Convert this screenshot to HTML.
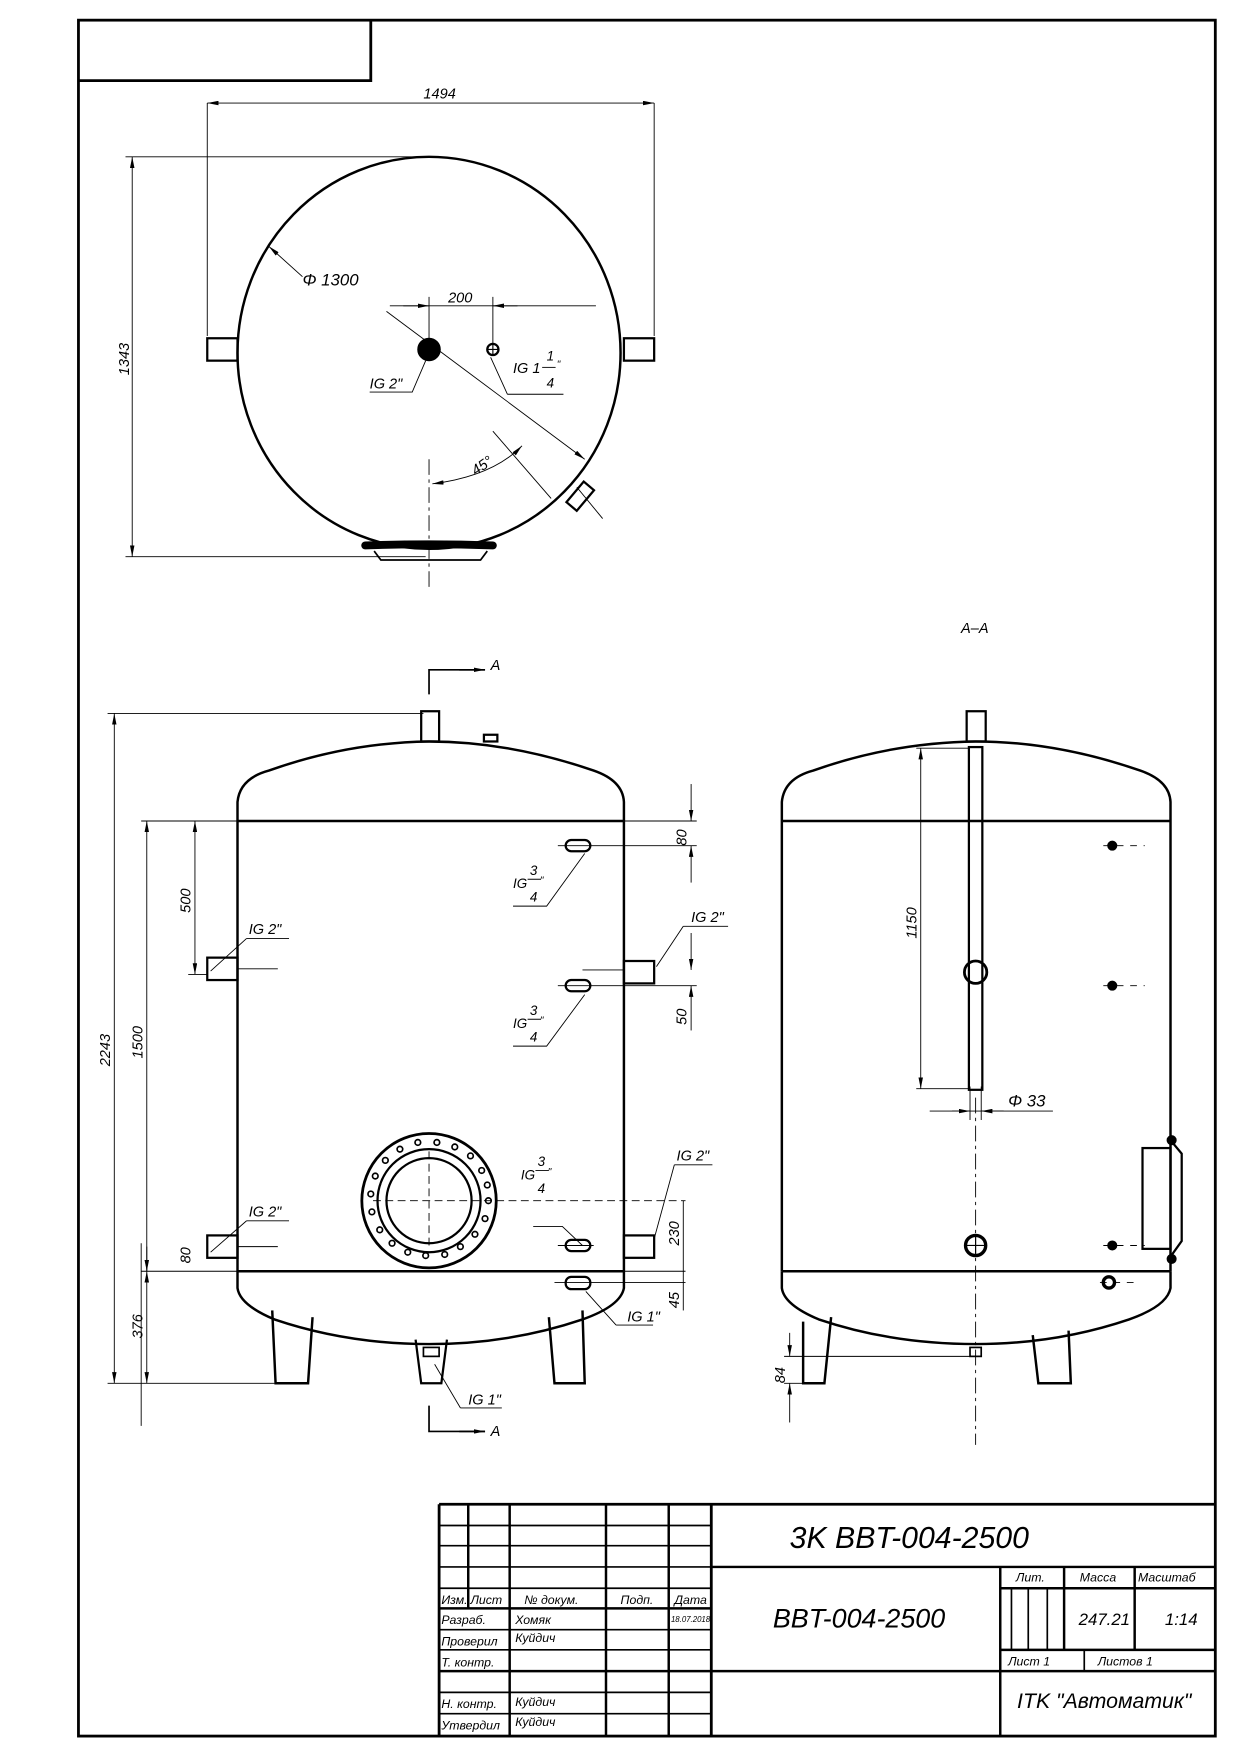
<!DOCTYPE html>
<html><head><meta charset="utf-8"><style>
html,body{margin:0;padding:0;background:#fff}
svg{display:block}
text{font-family:"Liberation Sans","DejaVu Sans",sans-serif;font-style:italic;fill:#000}
</style></head><body>
<svg width="1240" height="1754" viewBox="0 0 1107 1566" xmlns="http://www.w3.org/2000/svg">
<defs>
<marker id="a" viewBox="0 0 10 4" refX="10" refY="2" markerWidth="10" markerHeight="4" orient="auto-start-reverse" markerUnits="userSpaceOnUse"><path d="M0,0L10,2L0,4z"/></marker>
</defs>
<g fill="none" stroke="#000">
<rect x="70" y="18" width="1015" height="1532" stroke-width="2.5"/>
<path d="M70 72H331V18" stroke-width="2.5"/>

<!-- TOP VIEW -->
<ellipse cx="383" cy="315" rx="171" ry="175" stroke-width="2.2"/>
<rect x="185" y="302" width="27" height="20" stroke-width="2"/>
<rect x="557" y="302" width="27" height="20" stroke-width="2"/>
<path d="M185 300V92M584 300V92" stroke-width="0.8"/>
<path d="M185 92H584" stroke-width="0.8" marker-start="url(#a)" marker-end="url(#a)"/>
<path d="M112 140H385M112 497H380" stroke-width="0.8"/>
<path d="M118 140V497" stroke-width="0.8" marker-start="url(#a)" marker-end="url(#a)"/>
<path d="M270 247L240 220" stroke-width="0.8" marker-end="url(#a)"/>
<path d="M345 278L522 410" stroke-width="0.8" marker-end="url(#a)"/>
<path d="M348 273H532" stroke-width="0.8"/>
<path d="M360 273H383" stroke-width="0.8" marker-end="url(#a)"/>
<path d="M462 273H440" stroke-width="0.8" marker-end="url(#a)"/>
<path d="M383 265V310M440 265V308" stroke-width="0.8"/>
<circle cx="383" cy="312" r="10" fill="#000"/>
<circle cx="440" cy="312" r="5" stroke-width="2"/>
<path d="M440 307V317M435 312H445" stroke-width="1"/>
<path d="M330 350H368L380 322" stroke-width="0.8"/>
<path d="M453 352H503M453 352L438 319" stroke-width="0.8"/>
<path d="M383 410V525" stroke-width="0.8" stroke-dasharray="14 4 3 4"/>
<path d="M440 385L492 445" stroke-width="0.8"/>
<path d="M386 432Q440 425 466 398" stroke-width="0.8" marker-start="url(#a)" marker-end="url(#a)"/>
<g transform="translate(518,443) rotate(40)"><rect x="-6" y="-12" width="12" height="24" stroke-width="2"/></g>
<path d="M515 435L538 463" stroke-width="0.8"/>
<path d="M326 487Q383 485 440 487" stroke-width="7" stroke-linecap="round"/>
<path d="M334 492L340 500H429L435 492" stroke-width="1.5"/>

<!-- FRONT VIEW -->
<path d="M212 733V716Q214 695 240 688Q310 663 383 662Q455 662 530 688Q556 697 557 716V733" stroke-width="2.2"/>
<path d="M212 733H557M212 1135H557" stroke-width="2.2"/>
<path d="M212 733V1135M557 733V1135" stroke-width="2.2"/>
<path d="M212 1135V1150Q214 1165 245 1178Q310 1200 383 1200Q455 1200 520 1178Q554 1166 557 1150V1135" stroke-width="2.2"/>
<rect x="376" y="635" width="16" height="27" stroke-width="2"/>
<rect x="432" y="656" width="12" height="6" stroke-width="2"/>
<path d="M279 1176L275 1235H246L243 1170" stroke-width="2.2"/>
<path d="M490 1176L495 1235H522L520 1170" stroke-width="2.2"/>
<path d="M371 1196L376 1235H394L399 1196" stroke-width="2"/>
<rect x="378" y="1203" width="14" height="8" stroke-width="1.5"/>
<rect x="185" y="855" width="27" height="20" stroke-width="2"/>
<rect x="185" y="1103" width="27" height="20" stroke-width="2"/>
<rect x="557" y="858" width="27" height="20" stroke-width="2"/>
<rect x="557" y="1103" width="27" height="20" stroke-width="2"/>
<path d="M212 865H248M212 1113H248M520 866H557" stroke-width="0.8"/>
<g stroke-width="2">
<rect x="505" y="750" width="22" height="10" rx="5"/><rect x="505" y="875" width="22" height="10" rx="5"/>
<rect x="505" y="1107" width="22" height="10" rx="5"/><rect x="505" y="1140" width="22" height="11" rx="5"/>
</g>
<path d="M498 755H622M498 880H622M498 1112H530M495 1145H612" stroke-width="0.8"/>
<path d="M458 809H488L522 762" stroke-width="0.8"/>
<path d="M458 934H488L522 888" stroke-width="0.8"/>
<path d="M476 1095H502L520 1112" stroke-width="0.8"/>
<path d="M220 838H258M220 838L188 867" stroke-width="0.8"/>
<path d="M220 1090H258M220 1090L188 1118" stroke-width="0.8"/>
<path d="M610 827H650M610 827L586 863" stroke-width="0.8"/>
<path d="M602 1040H636M602 1040L584 1106" stroke-width="0.8"/>
<path d="M550 1183H583M550 1183L523 1153" stroke-width="0.8"/>
<path d="M411 1257H448M411 1257L388 1218" stroke-width="0.8"/>
<ellipse cx="383" cy="1072" rx="60" ry="60" stroke-width="2.5"/>
<ellipse cx="383" cy="1072" rx="46" ry="46" stroke-width="2"/>
<ellipse cx="383" cy="1072" rx="38" ry="38" stroke-width="2"/>
<g stroke-width="1.5">
<circle cx="436" cy="1072" r="2.5"/><circle cx="433" cy="1088" r="2.5"/><circle cx="424" cy="1102" r="2.5"/><circle cx="411" cy="1113" r="2.5"/><circle cx="397" cy="1120" r="2.5"/><circle cx="380" cy="1121" r="2.5"/><circle cx="364" cy="1118" r="2.5"/><circle cx="350" cy="1110" r="2.5"/><circle cx="339" cy="1098" r="2.5"/><circle cx="332" cy="1082" r="2.5"/><circle cx="331" cy="1066" r="2.5"/><circle cx="335" cy="1050" r="2.5"/><circle cx="344" cy="1036" r="2.5"/><circle cx="357" cy="1026" r="2.5"/><circle cx="373" cy="1020" r="2.5"/><circle cx="390" cy="1020" r="2.5"/><circle cx="406" cy="1024" r="2.5"/><circle cx="420" cy="1032" r="2.5"/><circle cx="430" cy="1045" r="2.5"/><circle cx="435" cy="1058" r="2.5"/>
</g>
<path d="M333 1072H612M383 1028V1116" stroke-width="0.8" stroke-dasharray="7 4"/>
<path d="M96 637H378M96 1235H245M126 733H212M126 1273V1110M126 1135H212M168 870H185" stroke-width="0.8"/>
<path d="M102 637V1235" stroke-width="0.8" marker-start="url(#a)" marker-end="url(#a)"/>
<path d="M131 733V1135" stroke-width="0.8" marker-start="url(#a)" marker-end="url(#a)"/>
<path d="M131 1135V1235" stroke-width="0.8" marker-start="url(#a)" marker-end="url(#a)"/>
<path d="M174 733V870" stroke-width="0.8" marker-start="url(#a)" marker-end="url(#a)"/>
<path d="M131 1113V1135" stroke-width="0.8"/>
<path d="M557 733H622" stroke-width="0.8"/>
<path d="M617 700V733" stroke-width="0.8" marker-end="url(#a)"/>
<path d="M617 788V755" stroke-width="0.8" marker-end="url(#a)"/>
<path d="M617 833V866" stroke-width="0.8" marker-end="url(#a)"/>
<path d="M617 920V880" stroke-width="0.8" marker-end="url(#a)"/>
<path d="M610 1072V1170" stroke-width="0.8"/>
<path d="M557 1135H612" stroke-width="0.8"/>
<path d="M383 620V598H433" stroke-width="1.5"/>
<path d="M410 598H433" stroke-width="1.5" marker-end="url(#a)"/>
<path d="M383 1255V1278H433" stroke-width="1.5"/>
<path d="M410 1278H433" stroke-width="1.5" marker-end="url(#a)"/>

<!-- SECTION A-A -->
<path d="M698 733V716Q700 695 726 688Q796 663 871 662Q943 662 1018 688Q1044 697 1045 716V733" stroke-width="2.2"/>
<path d="M698 733H1045M698 1135H1045M698 733V1135M1045 733V1135" stroke-width="2.2"/>
<path d="M698 1135V1150Q700 1165 731 1178Q796 1200 871 1200Q943 1200 1008 1178Q1042 1166 1045 1150V1135" stroke-width="2.2"/>
<rect x="863" y="635" width="17" height="27" stroke-width="2"/>
<path d="M717 1180L717 1235H736L742 1176" stroke-width="2.2"/>
<path d="M922 1192L927 1235H956L954 1188" stroke-width="2.2"/>
<rect x="866" y="1203" width="10" height="8" stroke-width="1.5"/>
<rect x="865" y="667" width="12" height="306" stroke-width="2"/>
<path d="M871 980V1290" stroke-width="0.8" stroke-dasharray="14 4 3 4"/>
<circle cx="871" cy="868" r="10" stroke-width="2.5"/>
<circle cx="871" cy="1112" r="9" stroke-width="3"/>
<path d="M862 1112H880M871 1104V1120" stroke-width="1"/>
<path d="M818 668H865M818 972H865" stroke-width="0.8"/>
<path d="M822 668V972" stroke-width="0.8" marker-start="url(#a)" marker-end="url(#a)"/>
<path d="M830 992H940" stroke-width="0.8"/>
<path d="M850 992H866" stroke-width="0.8" marker-end="url(#a)"/>
<path d="M896 992H876" stroke-width="0.8" marker-end="url(#a)"/>
<path d="M866 970V1000M876 970V1000" stroke-width="0.8"/>
<g stroke-width="1"><circle cx="993" cy="755" r="4" fill="#000"/><circle cx="993" cy="880" r="4" fill="#000"/><circle cx="993" cy="1112" r="4" fill="#000"/><circle cx="990" cy="1145" r="5" stroke-width="3"/></g>
<path d="M985 755H1022M985 880H1022M985 1112H1022M982 1145H1018" stroke-width="0.8" stroke-dasharray="6 6"/>
<rect x="1020" y="1025" width="25" height="90" stroke-width="2"/>
<path d="M1045 1018L1055 1030V1108L1045 1122" stroke-width="2"/>
<circle cx="1046" cy="1018" r="4" fill="#000"/><circle cx="1046" cy="1124" r="4" fill="#000"/>
<path d="M700 1211H876M700 1235H717" stroke-width="0.8"/>
<path d="M705 1190V1211" stroke-width="0.8" marker-end="url(#a)"/>
<path d="M705 1270V1235" stroke-width="0.8" marker-end="url(#a)"/>

<!-- TITLE BLOCK -->
<path d="M392 1343H1085M392 1343V1550M635 1343V1550" stroke-width="2.5"/>
<path d="M418 1343V1436M455 1343V1550M541 1343V1550M597 1343V1550M392 1492H1085M392 1436H635M635 1399H1085M893 1399V1550M893 1418H1085M950 1399V1473M1013 1399V1473M893 1473H1085" stroke-width="2.2"/>
<path d="M392 1362H635M392 1380H635M392 1399H635M392 1418H635M392 1455H635M392 1473H635M392 1511H635M392 1530H635M903 1418V1473M918 1418V1473M935 1418V1473M968 1473V1492" stroke-width="1.5"/>
</g>

<g font-size="13">
<text x="378" y="88">1494</text>
<text x="270" y="255" font-size="15">Φ 1300</text>
<text x="400" y="270">200</text>
<text x="330" y="347">IG 2"</text>
<text x="458" y="333">IG 1</text>
<text x="488" y="322" font-size="12">1</text>
<text x="488" y="346" font-size="12">4</text><path d="M484 328H496" stroke="#000" stroke-width="0.8"/><text x="497" y="328" font-size="9">"</text>
<text transform="translate(115,335) rotate(-90)">1343</text>
<text x="420" y="420" transform="rotate(-35 430 415)">45°</text>
<text x="858" y="565">A–A</text>
<text x="438" y="598">A</text>
<text x="438" y="1282">A</text>
<text transform="translate(98,952) rotate(-90)">2243</text>
<text transform="translate(127,945) rotate(-90)">1500</text>
<text transform="translate(127,1195) rotate(-90)">376</text>
<text transform="translate(170,1128) rotate(-90)">80</text>
<text transform="translate(170,815) rotate(-90)">500</text>
<text transform="translate(613,755) rotate(-90)">80</text>
<text transform="translate(613,915) rotate(-90)">50</text>
<text transform="translate(606,1112) rotate(-90)">230</text>
<text transform="translate(606,1168) rotate(-90)">45</text>
<text transform="translate(818,838) rotate(-90)">1150</text>
<text transform="translate(701,1235) rotate(-90)">84</text>
<text x="900" y="988" font-size="15">Φ 33</text>
<text x="222" y="834">IG 2"</text>
<text x="222" y="1086">IG 2"</text>
<text x="617" y="823">IG 2"</text>
<text x="604" y="1036">IG 2"</text>
<text x="560" y="1180">IG 1"</text>
<text x="418" y="1254">IG 1"</text>
<g font-size="12">
<text x="458" y="793">IG</text><text x="473" y="781">3</text><text x="473" y="805">4</text><text x="482" y="789" font-size="9">"</text>
<text x="458" y="918">IG</text><text x="473" y="906">3</text><text x="473" y="930">4</text><text x="482" y="914" font-size="9">"</text>
<text x="465" y="1053">IG</text><text x="480" y="1041">3</text><text x="480" y="1065">4</text><text x="489" y="1049" font-size="9">"</text>
</g>
<path d="M471 785H483M471 910H483M478 1045H490" stroke="#000" stroke-width="0.8"/>
</g>
<g>
<text x="705" y="1382" font-size="27">3K BBT-004-2500</text>
<text x="690" y="1453" font-size="24">BBT-004-2500</text>
<text x="907" y="1412" font-size="11">Лит.</text>
<text x="964" y="1412" font-size="11">Масса</text>
<text x="1016" y="1412" font-size="11">Масштаб</text>
<text x="963" y="1451" font-size="15">247.21</text>
<text x="1040" y="1451" font-size="15">1:14</text>
<text x="900" y="1487" font-size="11">Лист 1</text>
<text x="980" y="1487" font-size="11">Листов 1</text>
<text x="908" y="1525" font-size="19">ITK "Автоматик"</text>
<g font-size="11">
<text x="394" y="1432">Изм.</text><text x="420" y="1432">Лист</text><text x="468" y="1432">№ докум.</text><text x="554" y="1432">Подп.</text><text x="602" y="1432">Дата</text>
<text x="394" y="1450">Разраб.</text><text x="460" y="1450">Хомяк</text><text x="599" y="1448" font-size="7">18.07.2018</text>
<text x="394" y="1469">Проверил</text><text x="460" y="1466">Куйдич</text>
<text x="394" y="1488">Т. контр.</text>
<text x="394" y="1525">Н. контр.</text><text x="460" y="1523">Куйдич</text>
<text x="394" y="1544">Утвердил</text><text x="460" y="1541">Куйдич</text>
</g>
</g>
</svg>
</body></html>
